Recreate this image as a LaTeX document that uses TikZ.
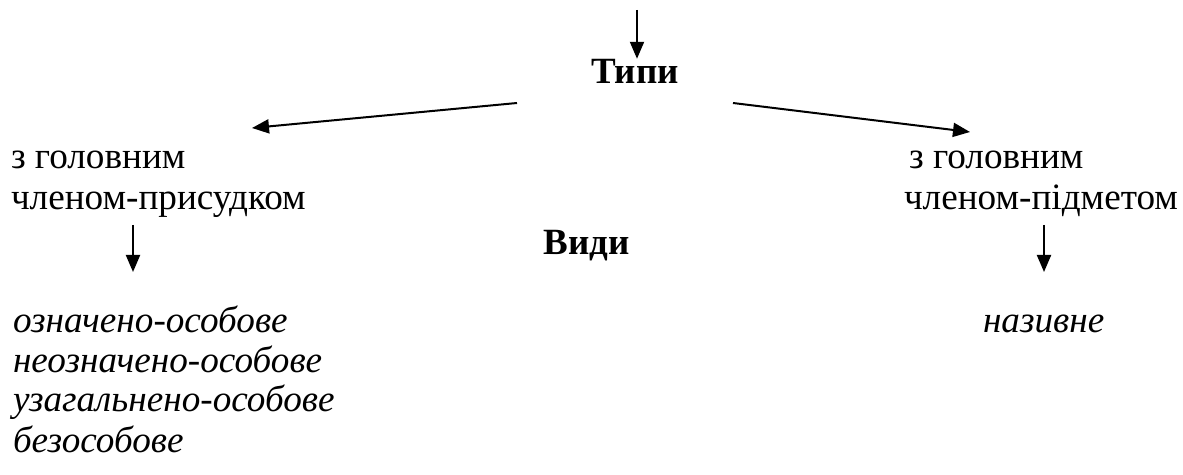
\documentclass[tikz,border=0pt]{standalone}
\usepackage{fontspec}
\setmainfont{Liberation Serif}
\usetikzlibrary{arrows.meta,positioning}
\tikzset{
  >={Triangle[length=8.5pt,width=7pt]},
  txt/.style={anchor=base west,inner sep=0pt,font=\fontsize{18.6}{20}\selectfont},
  kind/.style={txt,font=\fontsize{18.6}{20}\selectfont\itshape},
  head/.style={anchor=base,inner sep=0pt,font=\fontsize{18.5}{20}\selectfont\bfseries},
}

\begin{document}
\begin{tikzpicture}[x=0.5pt,y=-0.5pt,line width=1pt]

        \useasboundingbox (0,0) rectangle (1183,475);

        \node[head]    (t0)    at (635,84)    {Типи};
        \node[head]    (v0)    at (587,255)   {Види};

        \node[txt]     (l1)    at (10,169)    {з головним};
        \node[txt]     (l2)    at (10,210)    {членом-присудком};
        \node[txt]     (r1)    at (908,169)   {з головним};
        \node[txt]     (r2)    at (903,210)   {членом-підметом};

        \node[kind]    (k1)    at (12,333)    {означено-особове};
        \node[kind]    (k2)    at (12,373)    {неозначено-особове};
        \node[kind]    (k3)    at (12,412)    {узагальнено-особове};
        \node[kind]    (k4)    at (12,452)    {безособове};
        \node[kind]    (k5)    at (982,333)   {називне};

        \coordinate (c0) at (637,10);
        \coordinate (c1) at (517,103);
        \coordinate (c2) at (252,128);
        \coordinate (c3) at (733,103);
        \coordinate (c4) at (970,132);
        \coordinate (c5) at (133,225);
        \coordinate (c6) at (133,272);
        \coordinate (c7) at (1044,225);
        \coordinate (c8) at (1044,272);

        \draw[->] (c0) -- (t0.north -| c0);
        \draw[->] (c1) -- (c2);
        \draw[->] (c3) -- (c4);
        \draw[->] (c5) -- (c6);
        \draw[->] (c7) -- (c8);

\end{tikzpicture}
\end{document}
